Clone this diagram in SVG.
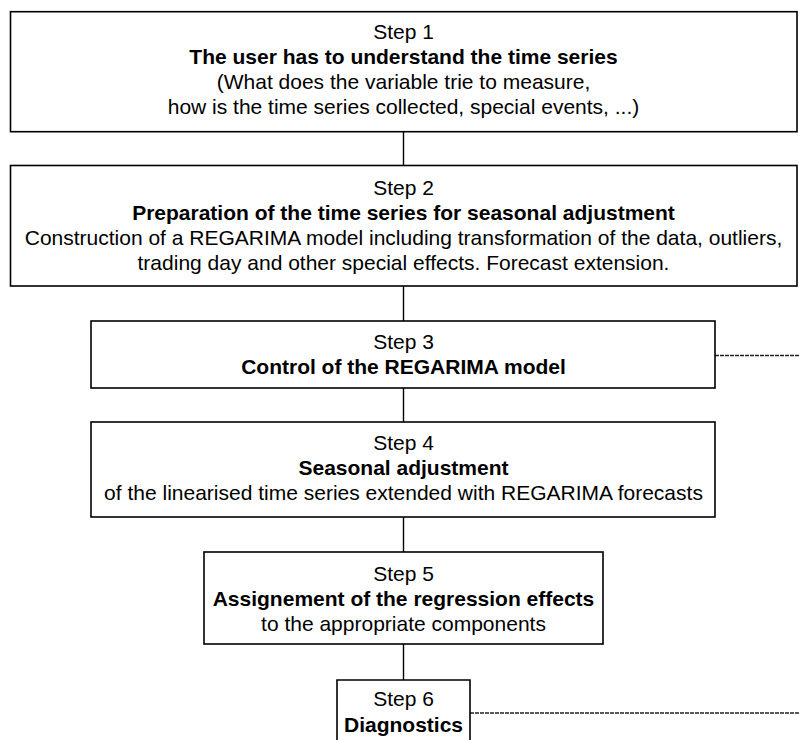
<svg xmlns="http://www.w3.org/2000/svg" width="799" height="740" viewBox="0 0 799 740">
<style>
.box{fill:#fff;stroke:#000;stroke-width:1.6}
.t{font-family:"Liberation Sans",Arial,sans-serif;font-size:21px;fill:#000;text-anchor:middle}
.b{font-weight:bold}
.c{stroke:#000;stroke-width:1.4;fill:none}
.d{stroke:#222;stroke-width:1.4;stroke-dasharray:4 1;fill:none}
</style>
<rect width="799" height="740" fill="#fff"/>
<g id="connectors">
<line class="c" x1="403.5" y1="131.7" x2="403.5" y2="165.5"/>
<line class="c" x1="403.5" y1="286" x2="403.5" y2="321"/>
<line class="c" x1="403.5" y1="388" x2="403.5" y2="422"/>
<line class="c" x1="403.5" y1="517" x2="403.5" y2="552"/>
<line class="c" x1="403.5" y1="644" x2="403.5" y2="680"/>
<line class="d" x1="715" y1="355.5" x2="799" y2="355.5"/>
<line class="d" x1="470" y1="713" x2="799" y2="713"/>
</g>
<g id="step1">
<rect class="box" x="10.5" y="11.7" width="786.5" height="120"/>
<text class="t" x="403.5" y="38.5">Step 1</text>
<text class="t b" x="403.5" y="63.5">The user has to understand the time series</text>
<text class="t" x="403.5" y="88.5">(What does the variable trie to measure,</text>
<text class="t" x="403.5" y="113.5">how is the time series collected, special events, ...)</text>
</g>
<g id="step2">
<rect class="box" x="10.5" y="165.5" width="786.5" height="120.5"/>
<text class="t" x="403.5" y="195">Step 2</text>
<text class="t b" x="403.5" y="220">Preparation of the time series for seasonal adjustment</text>
<text class="t" x="403.5" y="245">Construction of a REGARIMA model including transformation of the data, outliers,</text>
<text class="t" x="403.5" y="270">trading day and other special effects. Forecast extension.</text>
</g>
<g id="step3">
<rect class="box" x="91" y="321" width="624" height="67"/>
<text class="t" x="403.5" y="349">Step 3</text>
<text class="t b" x="403.5" y="374">Control of the REGARIMA model</text>
</g>
<g id="step4">
<rect class="box" x="91" y="422" width="624" height="95"/>
<text class="t" x="403.5" y="450">Step 4</text>
<text class="t b" x="403.5" y="475">Seasonal adjustment</text>
<text class="t" x="403.5" y="500">of the linearised time series extended with REGARIMA forecasts</text>
</g>
<g id="step5">
<rect class="box" x="204" y="552" width="399" height="92"/>
<text class="t" x="403.5" y="581">Step 5</text>
<text class="t b" x="403.5" y="606">Assignement of the regression effects</text>
<text class="t" x="403.5" y="631">to the appropriate components</text>
</g>
<g id="step6">
<path class="box" d="M337,741 V680 H470 V741"/>
<text class="t" x="403.5" y="706">Step 6</text>
<text class="t b" x="403.5" y="732">Diagnostics</text>
</g>
</svg>
